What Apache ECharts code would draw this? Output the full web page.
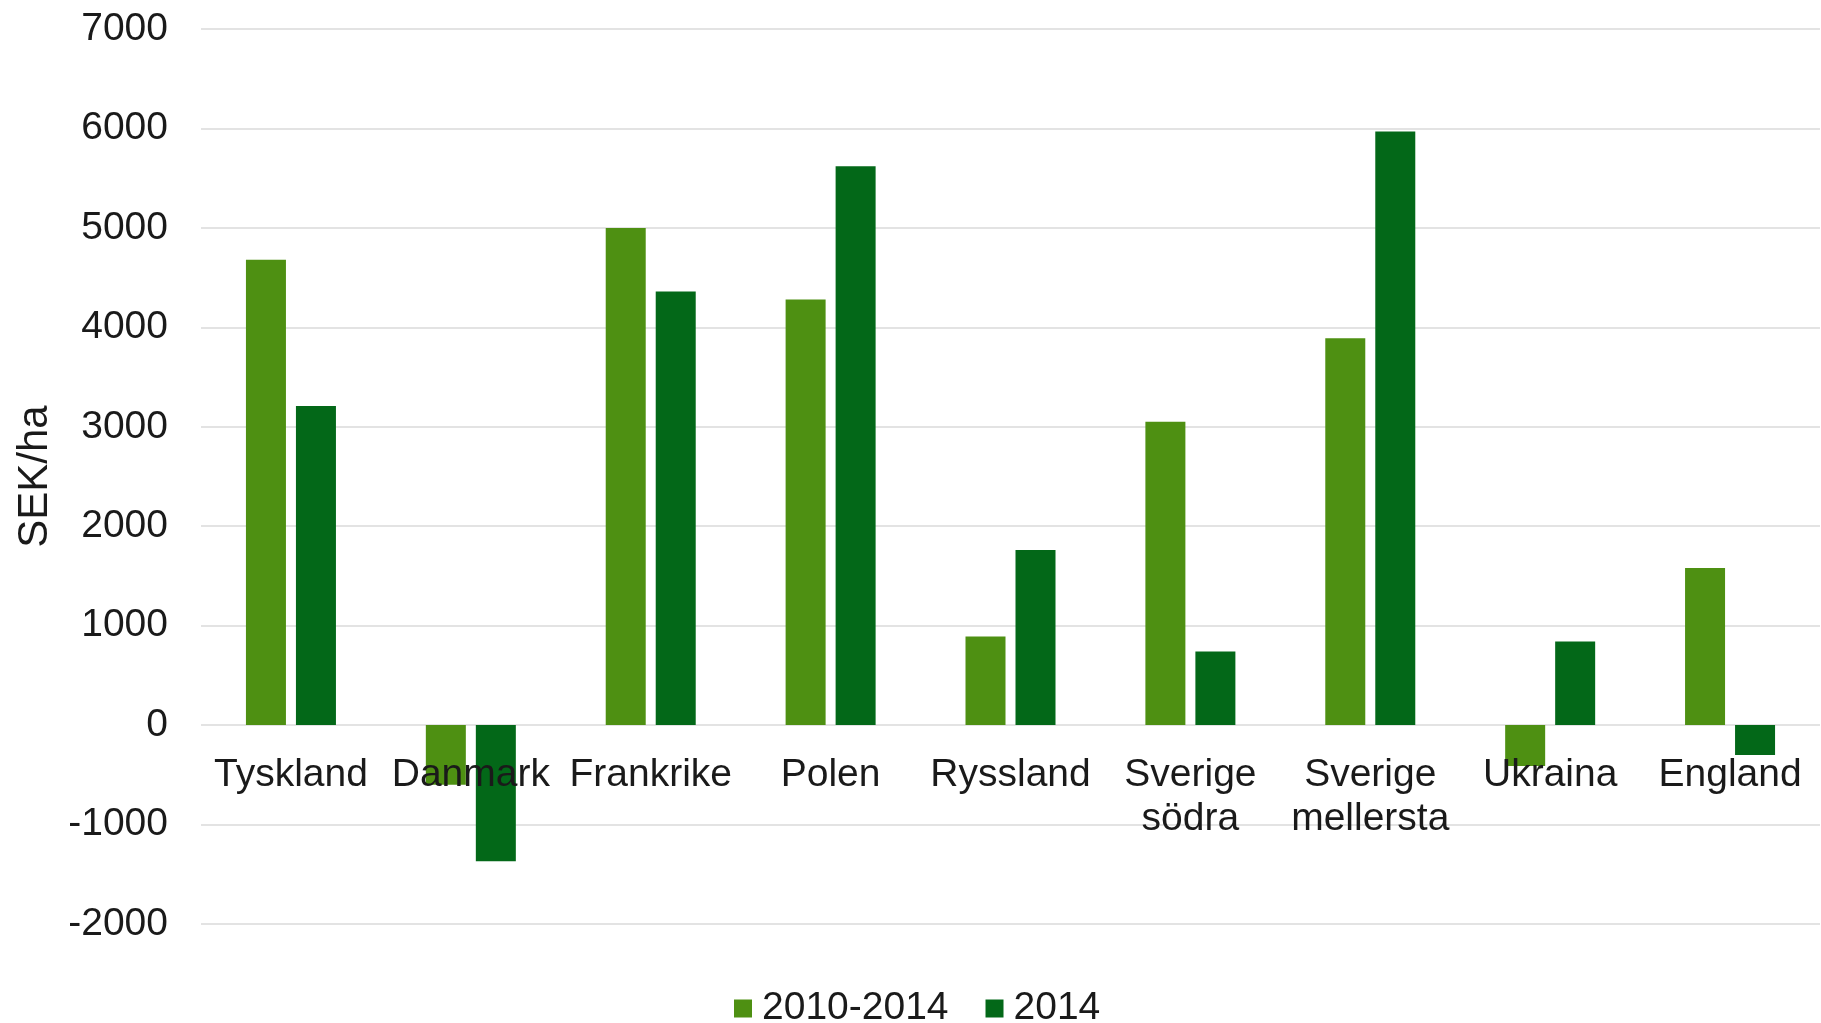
<!DOCTYPE html>
<html>
<head>
<meta charset="utf-8">
<script src="https://cdn.jsdelivr.net/npm/echarts@6/dist/echarts.min.js"></script>
<style>html,body{margin:0;padding:0;background:#fff;}#c{width:1821px;height:1023px;}</style>
</head>
<body>
<div id="c"></div>
<script>
const categories = ['Tyskland', 'Danmark', 'Frankrike', 'Polen', 'Ryssland', 'Sverige\nsödra', 'Sverige\nmellersta', 'Ukraina', 'England'];
const series2010_2014 = [4680, -600, 5000, 4280, 890, 3050, 3890, -410, 1580];
const series2014 = [3210, -1370, 4360, 5620, 1760, 740, 5970, 840, -300];
const seriesNames = ['2010-2014', '2014'];
const yAxisName = 'SEK/ha';

const font = 'Liberation Sans, Arial, sans-serif';
const fs = 39;
const chart = echarts.init(document.getElementById('c'), null, {renderer: 'canvas'});
chart.setOption({
  animation: false,
  backgroundColor: '#ffffff',
  grid: {left: 201, right: 1, top: 29, bottom: 99, containLabel: false, outerBoundsMode: 'none'},
  legend: {
    top: 984,
    left: 729,
    itemWidth: 18,
    itemHeight: 18,
    itemGap: 37,
    icon: 'rect',
    textStyle: {fontFamily: font, fontSize: fs, color: '#1a1a1a', padding: [0, 0, 0, 5]},
    data: seriesNames
  },
  xAxis: {
    type: 'category',
    data: categories,
    position: 'bottom',
    offset: -198,
    z: 10,
    axisLine: {show: false, onZero: false},
    axisTick: {show: false},
    axisLabel: {fontFamily: font, fontSize: fs, color: '#1a1a1a', margin: 27, lineHeight: 44, interval: 0},
    splitLine: {show: false}
  },
  yAxis: {
    type: 'value',
    min: -2000,
    max: 7000,
    interval: 1000,
    name: yAxisName,
    nameLocation: 'middle',
    nameGap: 145,
    nameTextStyle: {fontFamily: font, fontSize: 42, color: '#1a1a1a'},
    axisLine: {show: false},
    axisTick: {show: false},
    axisLabel: {fontFamily: font, fontSize: fs, color: '#1a1a1a', margin: 33, formatter: function (v) { return String(v); }},
    splitLine: {lineStyle: {color: '#e3e3e3', width: 2}}
  },
  series: [
    {name: seriesNames[0], type: 'bar', data: series2010_2014, barWidth: 40, barGap: '25%', itemStyle: {color: '#4E9012'}},
    {name: seriesNames[1], type: 'bar', data: series2014, barWidth: 40, barGap: '25%', itemStyle: {color: '#036818'}}
  ]
});
</script>
</body>
</html>
